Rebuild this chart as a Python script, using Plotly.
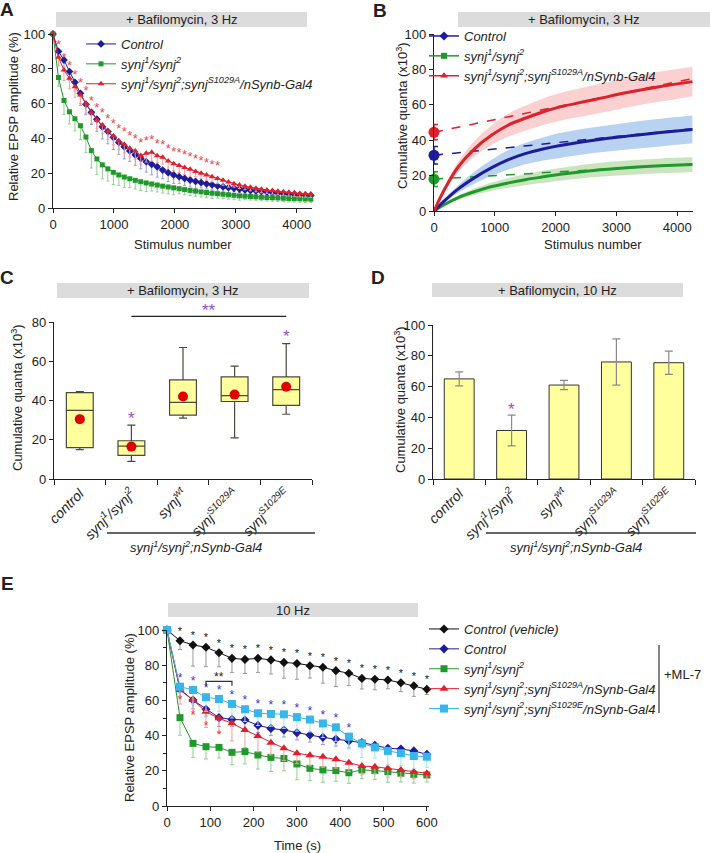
import plotly.graph_objects as go

W, H = 710, 853
FONT = "Liberation Sans, Arial, sans-serif"


def px(x):
    return x / W


def py(y):
    return 1 - y / H


# ---------------- Panel A data ----------------
a_stim = list(range(0, 4231, 90))
a_control = [100, 90, 85, 78.4, 72.2, 65.9, 59.6, 55, 51, 46.7, 43.9, 40.6, 37.7, 35.2, 32.8, 30.5,
             28.5, 26.6, 25.1, 23.7, 21.8, 20.3, 19.0, 18.0, 17.0, 16.1, 15.3, 14.6, 13.9, 13.3, 12.7,
             12.2, 11.7, 11.3, 10.9, 10.5, 10.1, 9.8, 9.5, 9.2, 8.9, 8.6, 8.3, 8.1, 7.9, 7.6, 7.4, 7.2]
a_synj = [100, 75, 61.8, 55.3, 51.3, 47.3, 40.8, 33, 28.2, 24.8, 22.5, 20.5, 19.0, 17.8, 16.8, 15.9,
          15.1, 14.4, 13.8, 13.2, 12.6, 12.1, 11.6, 11.1, 10.6, 10.1, 9.7, 9.3, 8.9, 8.5, 8.2, 7.9,
          7.6, 7.3, 7.0, 6.8, 6.6, 6.4, 6.2, 6.0, 5.9, 5.8, 5.6, 5.5, 5.4, 5.3, 5.2, 5.1]
a_s1029a = [100, 86.6, 79.3, 74.5, 69.7, 64.9, 60.2, 54.8, 50.6, 47.7, 44.3, 41.4, 38.7, 36.6, 34.3,
            32.8, 30.2, 31.4, 32.0, 30.0, 29.2, 27.0, 25.5, 24.4, 23.3, 22.2, 21.0, 20.0, 19.0, 18.0,
            17.0, 16.0, 15.0, 14.0, 13.2, 12.5, 11.9, 11.3, 10.8, 10.4, 10.0, 9.6, 9.3, 9.0, 8.7, 8.4,
            8.2, 8.0]
a_control_err = [0, 3, 4, 5, 5, 6, 6, 7, 7, 7, 7, 7, 7, 7, 6, 6, 6, 6, 6, 6, 5, 5, 5, 4, 4, 4, 4, 3,
                 3, 3, 3, 3, 3, 2, 2, 2, 2, 2, 2, 2, 2, 2, 2, 2, 2, 2, 2, 2]
a_synj_err = [0, 5, 8, 7, 7, 8, 9, 10, 9, 8, 7, 7, 6, 6, 5, 5, 5, 5, 4, 4, 4, 4, 4, 3, 3, 3, 3, 3, 3,
              3, 2.5, 2.5, 2.5, 2.5, 2.5, 2, 2, 2, 2, 2, 2, 2, 2, 2, 2, 2, 2, 2]
a_s1029a_err = [0, 5, 6, 6, 6, 6, 6, 6, 5, 5, 5, 5, 5, 5, 5, 5, 5, 5, 5, 4, 4, 4, 4, 4, 4, 4, 3, 3,
                3, 3, 3, 3, 3, 2, 2, 2, 2, 2, 2, 2, 2, 2, 2, 2, 2, 2, 2, 2]
a_star_count = 30  # red stars from stimulus 90 to ~2700

# ---------------- Panel B data ----------------
b_stim = [0, 180, 400, 675, 950, 1225, 1500, 1775, 2075, 2625, 3175, 3725, 4250]
b_red = [0, 12.7, 25, 35.4, 42.9, 48.6, 52.4, 55.8, 58.8, 62.8, 66.9, 70.3, 73.1]
b_blue = [0, 6, 12.5, 19, 24.5, 29.0, 32.4, 34.9, 37.0, 40.0, 42.3, 44.3, 46.1]
b_green = [0, 3.8, 7.6, 11.0, 13.8, 15.9, 17.7, 19.2, 20.7, 22.9, 24.4, 25.5, 26.3]
b_red_band = [0, 1.5, 3, 4.5, 5.5, 6.5, 7, 7.5, 7.8, 8.2, 8.4, 8.5, 8.4]
b_blue_band = [0, 1.2, 2.2, 3.5, 4.5, 5.5, 6, 6.5, 7, 7.3, 7.6, 7.8, 7.8]
b_green_band = [0, 0.8, 1.2, 1.8, 2.3, 2.8, 3.1, 3.4, 3.6, 3.9, 4.1, 4.2, 4.2]
b_fit_x = [0, 4250]
b_red_fit = [44.5, 74.8]
b_blue_fit = [31.5, 46.5]
b_green_fit = [18, 26.5]
b_intercepts = [44.5, 31.5, 18]
b_intercept_err = [4.3, 5, 4.2]

# ---------------- Panel C data ----------------
cats = ["control", "synj<sup>1</sup>/synj<sup>2</sup>", "synj<sup>wt</sup>",
        "synj<sup>S1029A</sup>", "synj<sup>S1029E</sup>"]
cat_labels = ["<i>" + c + "</i>" for c in cats]
c_q1 = [16, 12, 32.5, 39.5, 37.5]
c_median = [35, 16.8, 39, 42.5, 45.5]
c_q3 = [44, 19.5, 50.5, 52, 52]
c_low = [15, 9, 31, 21, 33]
c_high = [44.5, 27.5, 67, 57.5, 69]
c_mean = [30.5, 16.5, 42, 43, 47]
c_star_cats = [1, 4]
c_star_y = [33, 74.5]
c_bracket = (1, 4, 82.9)  # from category, to category, level

# ---------------- Panel D data ----------------
d_mean = [65, 31.5, 61, 76, 75.5]
d_err = [4.5, 10, 3, 15, 7.5]
d_star_y = 48

# ---------------- Panel E data ----------------
e_t = list(range(0, 601, 30))
e_vehicle = [100, 93.9, 91.5, 90.2, 87.1, 83.9, 83.3, 83.9, 83, 81.6, 81, 79.7, 78.8, 76.9, 75.4,
             72.5, 72, 71.6, 70, 68.3, 66.3]
e_control = [100, 66.3, 60.2, 55, 50.2, 49.2, 48.9, 45.8, 44.1, 43.2, 41.6, 40.3, 39, 38, 37, 36,
             34.5, 32.8, 32.4, 31.3, 29.4]
e_synj = [100, 50.2, 35.6, 33.7, 33.3, 30.5, 30.9, 29, 27.6, 27, 23.9, 21.4, 20.5, 20.1, 18.9, 20.5,
          20.1, 19.5, 18.6, 18, 17.6]
e_s1029a = [100, 65.9, 60.2, 53.6, 49.8, 47, 43.2, 39.8, 36, 32.8, 30, 28.8, 28, 26.5, 24.6, 22.7,
            22.3, 21.4, 20.5, 19.5, 18.6]
e_s1029e = [100, 67.8, 65.9, 61.8, 60.8, 58, 55, 52.7, 52.3, 52.1, 50.5, 49.1, 46.9, 44.7, 39.4,
            35.6, 33.3, 31.3, 30, 28.4, 28]
e_vehicle_err = [0, 5, 12, 11, 8, 8, 8, 8, 8, 9, 9, 7, 9, 9, 7, 6, 6, 5, 5, 6, 3]
e_control_err = [0, 4, 5, 4, 5, 4, 5, 4, 4, 4, 4, 4, 4, 4, 4, 3, 3, 3, 3, 4, 3]
e_synj_err = [0, 10, 8, 7, 6, 7, 7, 8, 8, 7, 9, 7, 7, 6, 6, 5, 5, 6, 5, 5, 4]
e_s1029a_err = [0, 8, 8, 9, 8, 10, 10, 9, 7, 7, 6, 6, 6, 5, 5, 5, 4, 5, 4, 4, 3]
e_s1029e_err = [0, 6, 8, 8, 7, 8, 7, 7, 7, 8, 8, 7, 8, 8, 7, 8, 6, 8, 7, 7, 6]
e_blue_star_count = 14
e_red_star_t = [30, 60, 90, 120]
e_red_star_y = [59.5, 51, 45, 40]
e_bracket = (90, 150, 70.8)

# ---------------- colours ----------------
BLUE = "#1c1c9c"
GREEN = "#1f9a2a"
RED = "#e0202a"
CYAN = "#36b6ea"
BLACK = "#111111"
BLUE_L = "#9a9ad8"
GREEN_L = "#93cf93"
RED_L = "#f2a0a0"
CYAN_L = "#a6def5"
BLACK_L = "#9a9a9a"
PURPLE = "#9b4dca"
YELLOW = "#ffff9e"

fig = go.Figure()

# ---------- Panel A ----------
for name, vals, err, col, lcol, sym, sz in [
    ("<i>Control</i>", a_control, a_control_err, BLUE, BLUE_L, "diamond", 6),
    ("<i>synj<sup>1</sup>/synj<sup>2</sup></i>", a_synj, a_synj_err, GREEN, GREEN_L, "square", 5),
    ("<i>synj<sup>1</sup>/synj<sup>2</sup>;synj<sup>S1029A</sup>/nSynb-Gal4</i>", a_s1029a, a_s1029a_err,
     RED, RED_L, "triangle-up", 6),
]:
    fig.add_trace(go.Scatter(
        x=a_stim, y=vals, mode="lines+markers", name=name, legend="legend",
        line=dict(color=col, width=1), marker=dict(color=col, symbol=sym, size=sz),
        error_y=dict(type="data", symmetric=False, array=[0] * len(err), arrayminus=err,
                     color=lcol, thickness=1, width=1.5),
        cliponaxis=False, xaxis="x", yaxis="y"))
fig.add_trace(go.Scatter(
    x=a_stim[1:a_star_count + 1], y=[v + 6.5 for v in a_s1029a[1:a_star_count + 1]],
    mode="text", text=["*"] * a_star_count, textfont=dict(color="#e8474a", size=13, family=FONT),
    showlegend=False, hoverinfo="skip", cliponaxis=False, xaxis="x", yaxis="y"))

# ---------- Panel B ----------
for vals, band, fillc in [(b_green, b_green_band, "rgba(160,205,140,0.55)"),
                          (b_blue, b_blue_band, "rgba(140,180,232,0.6)"),
                          (b_red, b_red_band, "rgba(245,170,170,0.55)")]:
    lower = [v - b for v, b in zip(vals, band)]
    upper = [v + b for v, b in zip(vals, band)]
    fig.add_trace(go.Scatter(x=b_stim, y=lower, mode="lines", line=dict(width=0, shape="spline"),
                             showlegend=False, hoverinfo="skip", xaxis="x2", yaxis="y2"))
    fig.add_trace(go.Scatter(x=b_stim, y=upper, mode="lines", line=dict(width=0, shape="spline"),
                             fill="tonexty", fillcolor=fillc, showlegend=False, hoverinfo="skip",
                             xaxis="x2", yaxis="y2"))
for fit, col in [(b_green_fit, GREEN), (b_blue_fit, BLUE), (b_red_fit, RED)]:
    fig.add_trace(go.Scatter(x=b_fit_x, y=fit, mode="lines", line=dict(color=col, width=1.5, dash="dash"),
                             showlegend=False, hoverinfo="skip", xaxis="x2", yaxis="y2"))
for vals, col in [(b_green, GREEN), (b_blue, BLUE), (b_red, RED)]:
    fig.add_trace(go.Scatter(x=b_stim, y=vals, mode="lines", line=dict(color=col, width=3, shape="spline"),
                             showlegend=False, xaxis="x2", yaxis="y2"))
for val, err, col in zip(b_intercepts, b_intercept_err, [RED, BLUE, GREEN]):
    fig.add_trace(go.Scatter(x=[0], y=[val], mode="markers", marker=dict(color=col, size=11),
                             error_y=dict(type="data", array=[err], color=col, thickness=1.5, width=4),
                             cliponaxis=False, showlegend=False, xaxis="x2", yaxis="y2"))
for name, col, sym, sz in [
    ("<i>Control</i>", BLUE, "diamond", 7),
    ("<i>synj<sup>1</sup>/synj<sup>2</sup></i>", GREEN, "square", 6),
    ("<i>synj<sup>1</sup>/synj<sup>2</sup>;synj<sup>S1029A</sup>/nSynb-Gal4</i>", RED, "triangle-up", 7),
]:
    fig.add_trace(go.Scatter(x=[None], y=[None], mode="lines+markers", name=name, legend="legend2",
                             line=dict(color=col, width=1.5), marker=dict(color=col, symbol=sym, size=sz),
                             xaxis="x2", yaxis="y2"))

# ---------- Panel C ----------
fig.add_trace(go.Box(
    x=cats, q1=c_q1, median=c_median, q3=c_q3, lowerfence=c_low, upperfence=c_high,
    fillcolor=YELLOW, line=dict(color="#4a4a3a", width=1.2), width=0.52, whiskerwidth=0.3,
    boxpoints=False, showlegend=False, xaxis="x3", yaxis="y3"))
fig.add_trace(go.Scatter(x=cats, y=c_mean, mode="markers", marker=dict(color="#e00000", size=10),
                         showlegend=False, xaxis="x3", yaxis="y3"))

# ---------- Panel D ----------
fig.add_trace(go.Bar(
    x=cats, y=d_mean, width=0.57, marker=dict(color=YELLOW, line=dict(color="#333333", width=1)),
    error_y=dict(type="data", array=d_err, color="#8a8a8a", thickness=1.2, width=4),
    showlegend=False, xaxis="x4", yaxis="y4"))

# ---------- Panel E ----------
for name, vals, err, col, lcol, sym, sz in [
    ("<i>Control (vehicle)</i>", e_vehicle, e_vehicle_err, BLACK, BLACK_L, "diamond", 7),
    ("<i>Control</i>", e_control, e_control_err, BLUE, BLUE_L, "diamond", 7),
    ("<i>synj<sup>1</sup>/synj<sup>2</sup></i>", e_synj, e_synj_err, GREEN, GREEN_L, "square", 7),
    ("<i>synj<sup>1</sup>/synj<sup>2</sup>;synj<sup>S1029A</sup>/nSynb-Gal4</i>", e_s1029a, e_s1029a_err,
     RED, RED_L, "triangle-up", 8),
    ("<i>synj<sup>1</sup>/synj<sup>2</sup>;synj<sup>S1029E</sup>/nSynb-Gal4</i>", e_s1029e, e_s1029e_err,
     CYAN, CYAN_L, "square", 8),
]:
    fig.add_trace(go.Scatter(
        x=e_t, y=vals, mode="lines+markers", name=name, legend="legend3",
        line=dict(color=col, width=1), marker=dict(color=col, symbol=sym, size=sz),
        error_y=dict(type="data", symmetric=False, array=[0] * len(err), arrayminus=err,
                     color=lcol, thickness=1, width=2),
        cliponaxis=False, xaxis="x5", yaxis="y5"))
fig.add_trace(go.Scatter(x=e_t[1:], y=[v + 5 for v in e_vehicle[1:]], mode="text",
                         text=["*"] * (len(e_t) - 1), textfont=dict(color=BLACK, size=11, family=FONT),
                         showlegend=False, hoverinfo="skip", cliponaxis=False, xaxis="x5", yaxis="y5"))
fig.add_trace(go.Scatter(x=e_t[1:e_blue_star_count + 1], y=[v + 4.5 for v in e_s1029e[1:e_blue_star_count + 1]],
                         mode="text", text=["*"] * e_blue_star_count,
                         textfont=dict(color="#3535d0", size=12, family=FONT),
                         showlegend=False, hoverinfo="skip", cliponaxis=False, xaxis="x5", yaxis="y5"))
fig.add_trace(go.Scatter(x=e_red_star_t, y=e_red_star_y, mode="text", text=["*"] * len(e_red_star_t),
                         textfont=dict(color="#e04040", size=12, family=FONT),
                         showlegend=False, hoverinfo="skip", cliponaxis=False, xaxis="x5", yaxis="y5"))

# ---------- axes ----------
def axis(**kw):
    d = dict(showline=True, linecolor="#222", linewidth=1.2, ticks="outside", ticklen=4,
             tickcolor="#222", tickwidth=1, showgrid=False, zeroline=False, automargin=False,
             tickfont=dict(size=13, color="#222", family=FONT))
    d.update(kw)
    return d


cat_font = dict(size=14, color="#222", family=FONT)
layout_axes = dict(
    xaxis=axis(domain=[px(53), px(312)], range=[0, 4250], tickvals=[0, 1000, 2000, 3000, 4000], anchor="y"),
    yaxis=axis(domain=[py(208), py(34)], range=[0, 100], dtick=20, anchor="x"),
    xaxis2=axis(domain=[px(434), px(693)], range=[0, 4260], tickvals=[0, 1000, 2000, 3000, 4000], anchor="y2"),
    yaxis2=axis(domain=[py(211), py(34)], range=[0, 100], dtick=20, anchor="x2"),
    xaxis3=axis(domain=[px(54), px(312)], type="category", categoryorder="array", categoryarray=cats,
                range=[-0.5, 4.5], tickson="boundaries", tickangle=-45, ticklen=5,
                tickvals=cats, ticktext=cat_labels, tickfont=cat_font, anchor="y3"),
    yaxis3=axis(domain=[py(479), py(322)], range=[0, 80], dtick=20, anchor="x3"),
    xaxis4=axis(domain=[px(433), px(695)], type="category", categoryorder="array", categoryarray=cats,
                range=[-0.5, 4.5], tickson="boundaries", tickangle=-45, ticklen=5,
                tickvals=cats, ticktext=cat_labels, tickfont=cat_font, anchor="y4"),
    yaxis4=axis(domain=[py(479), py(325)], range=[0, 100], dtick=20, anchor="x4"),
    xaxis5=axis(domain=[px(167), px(429)], range=[0, 605], dtick=100, anchor="y5"),
    yaxis5=axis(domain=[py(806), py(630)], range=[0, 100], dtick=20, anchor="x5",
                minor=dict(dtick=10, ticks="outside", ticklen=3, tickcolor="#222")),
)

shapes = []
annotations = []


def banner(x0, x1, y0, y1, text):
    shapes.append(dict(type="rect", xref="paper", yref="paper", x0=px(x0), x1=px(x1), y0=py(y1), y1=py(y0),
                       fillcolor="#dcdcdc", line=dict(width=0), layer="below"))
    annotations.append(dict(text=text, x=px((x0 + x1) / 2), y=py((y0 + y1) / 2), xref="paper", yref="paper",
                            showarrow=False, font=dict(size=13, color="#222", family=FONT),
                            xanchor="center", yanchor="middle"))


banner(56, 307, 12, 27, "+ Bafilomycin, 3 Hz")
banner(458, 710, 12, 27, "+ Bafilomycin, 3 Hz")
banner(57, 309, 283, 298, "+ Bafilomycin, 3 Hz")
banner(432, 683, 283, 297, "+ Bafilomycin, 10 Hz")
banner(168, 418, 603, 617, "10 Hz")


def label(text, x, y, size=13, angle=0, xanchor="center"):
    annotations.append(dict(text=text, x=px(x), y=py(y), xref="paper", yref="paper", showarrow=False,
                            textangle=angle, xanchor=xanchor, yanchor="middle",
                            font=dict(size=size, color="#222", family=FONT)))


for letter, x, y in [("A", 7, 9), ("B", 380, 10), ("C", 7, 278), ("D", 378, 278), ("E", 7, 583)]:
    label("<b>" + letter + "</b>", x, y, size=19)

label("Relative EPSP amplitude (%)", 13, 117, angle=-90)
label("Stimulus number", 183, 245)
label("Cumulative quanta (x10<sup>3</sup>)", 402, 116, angle=-90)
label("Stimulus number", 593, 245)
label("Cumulative quanta (x10<sup>3</sup>)", 17, 398, angle=-90)
label("Cumulative quanta (x10<sup>3</sup>)", 400, 400, angle=-90)
label("Relative EPSP amplitude (%)", 129, 718, angle=-90)
label("Time (s)", 297, 845)
label("<i>synj<sup>1</sup>/synj<sup>2</sup>;nSynb-Gal4</i>", 196, 547)
label("<i>synj<sup>1</sup>/synj<sup>2</sup>;nSynb-Gal4</i>", 576, 547)
label("+ML-7", 662, 674, xanchor="left")

# genotype group lines under C and D
shapes.append(dict(type="line", xref="paper", yref="paper", x0=px(107), x1=px(315), y0=py(533), y1=py(533),
                   line=dict(color="#333", width=1.5)))
shapes.append(dict(type="line", xref="paper", yref="paper", x0=px(486), x1=px(696), y0=py(533), y1=py(533),
                   line=dict(color="#333", width=1.5)))
# +ML-7 bracket
shapes.append(dict(type="line", xref="paper", yref="paper", x0=px(659), x1=px(659), y0=py(645), y1=py(713),
                   line=dict(color="#333", width=1.2)))

# C significance
n_cat = len(cats)
cb0, cb1, clev = c_bracket
shapes.append(dict(type="line", xref="x3 domain", yref="y3 domain",
                   x0=(cb0 + 0.5) / n_cat, x1=(cb1 + 0.5) / n_cat, y0=clev / 80, y1=clev / 80,
                   line=dict(color="#222", width=1.3)))
annotations.append(dict(text="**", xref="x3 domain", yref="y3 domain", x=(cb0 + cb1 + 1) / 2 / n_cat,
                        y=clev / 80, yanchor="bottom", showarrow=False, yshift=-6,
                        font=dict(size=17, color=PURPLE, family=FONT)))
for ci, cy in zip(c_star_cats, c_star_y):
    annotations.append(dict(text="*", xref="x3", yref="y3", x=cats[ci], y=cy, showarrow=False,
                            yshift=-4, font=dict(size=17, color=PURPLE, family=FONT)))
annotations.append(dict(text="*", xref="x4", yref="y4", x=cats[1], y=d_star_y, showarrow=False,
                        yshift=-4, font=dict(size=17, color=PURPLE, family=FONT)))

# E bracket
eb0, eb1, elev = e_bracket
shapes.append(dict(type="path", xref="x5", yref="y5",
                   path=f"M {eb0},{elev - 2.5} L {eb0},{elev} L {eb1},{elev} L {eb1},{elev - 2.5}",
                   line=dict(color="#333", width=1.2)))
annotations.append(dict(text="**", xref="x5", yref="y5", x=(eb0 + eb1) / 2, y=elev, yanchor="bottom",
                        showarrow=False, yshift=-5, font=dict(size=12, color="#222", family=FONT)))

legend_common = dict(bgcolor="rgba(0,0,0,0)", font=dict(size=13, color="#222", family=FONT),
                     xanchor="left", yanchor="top", tracegroupgap=0, itemwidth=30, itemclick=False,
                     traceorder="normal")

fig.update_layout(
    width=W, height=H, margin=dict(l=0, r=0, t=0, b=0, pad=0, autoexpand=False),
    paper_bgcolor="white", plot_bgcolor="white",
    font=dict(family=FONT, size=13, color="#222"),
    showlegend=True,
    legend=dict(x=px(81), y=py(29), **legend_common),
    legend2=dict(x=px(424), y=py(21), **legend_common),
    legend3=dict(x=px(424), y=py(614), **legend_common),
    shapes=shapes, annotations=annotations,
    **layout_axes,
)

fig.write_html("out.html", config={"displayModeBar": False},
               post_script="document.body.style.margin='0';document.body.style.padding='0';"
                           "document.documentElement.style.overflow='hidden';")
